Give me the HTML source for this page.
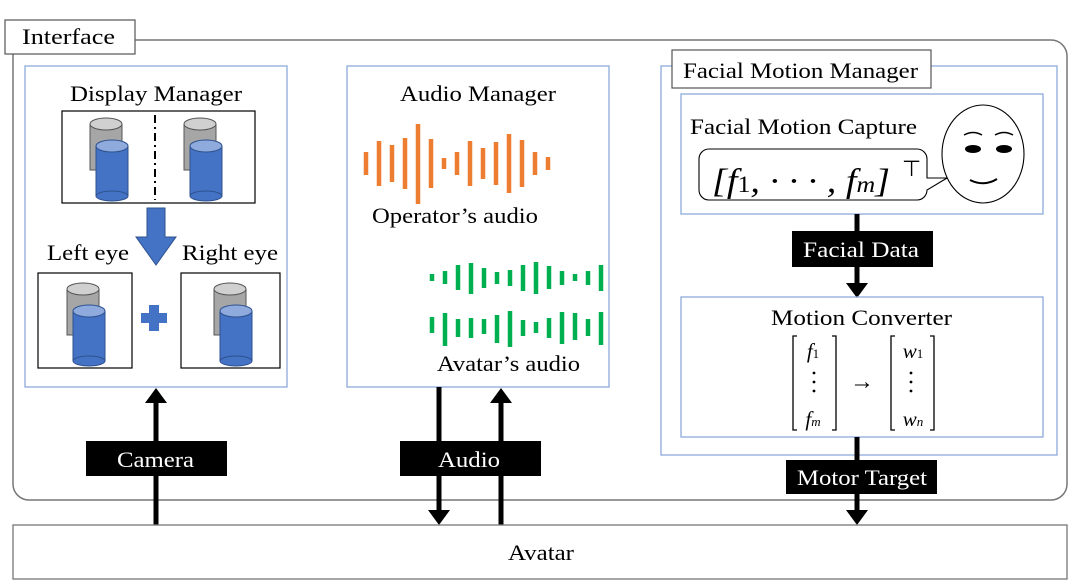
<!DOCTYPE html>
<html><head><meta charset="utf-8"><style>
html,body{margin:0;padding:0;background:#fff;}
svg{display:block;font-family:"Liberation Serif",serif;}
</style></head><body>
<svg width="1079" height="588" viewBox="0 0 1079 588" xmlns="http://www.w3.org/2000/svg">
<defs>
<g id="cyl">
 <rect x="0" y="6" width="32" height="46" fill="#a6a6a6" stroke="#555" stroke-width="1"/>
 <ellipse cx="16" cy="6" rx="16" ry="6" fill="#d0d0d0" stroke="#555" stroke-width="1"/>
 <rect x="6" y="28" width="32" height="50" fill="#4472c4" stroke="#2f528f" stroke-width="1"/>
 <ellipse cx="22" cy="78" rx="16" ry="5" fill="#4472c4" stroke="#2f528f" stroke-width="1"/>
 <ellipse cx="22" cy="28" rx="16" ry="6" fill="#8faadc" stroke="#2f528f" stroke-width="1"/>
</g>
</defs>
<g font-size="22">
<!-- Interface -->
<rect x="13" y="40" width="1054" height="460" rx="16" fill="none" stroke="#777" stroke-width="1.5"/>
<rect x="5" y="20" width="130" height="34" fill="#fff" stroke="#555" stroke-width="1.2"/>
<text x="22" y="44" textLength="93" lengthAdjust="spacingAndGlyphs">Interface</text>

<!-- Display manager -->
<rect x="25" y="66" width="262" height="321" fill="#fff" stroke="#8eaadb" stroke-width="1.3"/>
<text x="70" y="101" textLength="172" lengthAdjust="spacingAndGlyphs">Display Manager</text>
<rect x="62" y="111" width="193" height="92" fill="none" stroke="#000" stroke-width="1.2"/>
<line x1="155" y1="115" x2="155" y2="200" stroke="#000" stroke-width="2" stroke-dasharray="8,4,2,4"/>
<use href="#cyl" x="90" y="118"/>
<use href="#cyl" x="184" y="118"/>
<polygon points="147,208 165,208 165,237 176,237 156,265 136,237 147,237" fill="#4472c4" stroke="#2f528f"/>
<text x="47" y="260" textLength="82" lengthAdjust="spacingAndGlyphs">Left eye</text>
<text x="182" y="260" textLength="96" lengthAdjust="spacingAndGlyphs">Right eye</text>
<rect x="38" y="273" width="94" height="95" fill="none" stroke="#000" stroke-width="1.2"/>
<rect x="181" y="273" width="99" height="95" fill="none" stroke="#000" stroke-width="1.2"/>
<use href="#cyl" x="67" y="283"/>
<use href="#cyl" x="214" y="283"/>
<path d="M149,305 h10 v8 h8 v10 h-8 v8 h-10 v-8 h-8 v-10 h8z" fill="#4472c4"/>

<!-- Audio manager -->
<rect x="347" y="66" width="262" height="321" fill="#fff" stroke="#8eaadb" stroke-width="1.3"/>
<text x="400" y="101" textLength="156" lengthAdjust="spacingAndGlyphs">Audio Manager</text>
<g stroke="#ed7d31" stroke-width="4.5">
<line x1="366" y1="152" x2="366" y2="175"/><line x1="379" y1="141" x2="379" y2="186"/><line x1="392" y1="145" x2="392" y2="182"/><line x1="405" y1="138" x2="405" y2="189"/><line x1="418" y1="124" x2="418" y2="204"/><line x1="431" y1="139" x2="431" y2="188"/><line x1="444" y1="158" x2="444" y2="169"/><line x1="457" y1="152" x2="457" y2="175"/><line x1="470" y1="141" x2="470" y2="186"/><line x1="483" y1="148" x2="483" y2="179"/><line x1="496" y1="142" x2="496" y2="185"/><line x1="509" y1="134" x2="509" y2="193"/><line x1="522" y1="140" x2="522" y2="187"/><line x1="535" y1="152" x2="535" y2="175"/><line x1="548" y1="157" x2="548" y2="170"/>
</g>
<text x="372" y="223" textLength="166" lengthAdjust="spacingAndGlyphs">Operator’s audio</text>
<g stroke="#00b050" stroke-width="4.5">
<line x1="432" y1="274" x2="432" y2="281"/><line x1="445" y1="271" x2="445" y2="284"/><line x1="458" y1="265" x2="458" y2="290"/><line x1="471" y1="263" x2="471" y2="294"/><line x1="484" y1="268" x2="484" y2="288"/><line x1="497" y1="272" x2="497" y2="284"/><line x1="510" y1="270" x2="510" y2="286"/><line x1="523" y1="265" x2="523" y2="291"/><line x1="536" y1="262" x2="536" y2="294"/><line x1="549" y1="266" x2="549" y2="289"/><line x1="562" y1="271" x2="562" y2="285"/><line x1="575" y1="274" x2="575" y2="281"/><line x1="588" y1="271" x2="588" y2="285"/><line x1="601" y1="265" x2="601" y2="291"/>
<line x1="432" y1="317" x2="432" y2="333"/><line x1="445" y1="313" x2="445" y2="346"/><line x1="458" y1="319" x2="458" y2="337"/><line x1="471" y1="318" x2="471" y2="338"/><line x1="484" y1="319" x2="484" y2="334"/><line x1="497" y1="315" x2="497" y2="343"/><line x1="510" y1="311" x2="510" y2="347"/><line x1="523" y1="320" x2="523" y2="336"/><line x1="536" y1="322" x2="536" y2="333"/><line x1="549" y1="318" x2="549" y2="338"/><line x1="562" y1="312" x2="562" y2="344"/><line x1="575" y1="313" x2="575" y2="340"/><line x1="588" y1="319" x2="588" y2="336"/><line x1="601" y1="312" x2="601" y2="345"/>
</g>
<text x="437" y="371" textLength="143" lengthAdjust="spacingAndGlyphs">Avatar’s audio</text>

<!-- Facial motion manager -->
<rect x="661" y="66" width="396" height="389" fill="#fff" stroke="#8eaadb" stroke-width="1.3"/>
<rect x="672" y="50" width="259" height="38" fill="#fff" stroke="#555" stroke-width="1.2"/>
<text x="683" y="78" textLength="235" lengthAdjust="spacingAndGlyphs">Facial Motion Manager</text>
<rect x="681" y="94" width="362" height="120" fill="none" stroke="#8eaadb" stroke-width="1.3"/>
<text x="690" y="134" textLength="227" lengthAdjust="spacingAndGlyphs">Facial Motion Capture</text>
<path d="M710,149 H917 A10,10 0 0 1 927,159 V178 L947,178 L927,190 A10,10 0 0 1 917,200 H709 A10,10 0 0 1 699,190 V159 A10,10 0 0 1 709,149Z" fill="#fff" stroke="#000" stroke-width="1.1"/>
<text x="712" y="192" font-size="34" font-style="italic" textLength="178" lengthAdjust="spacingAndGlyphs">[f<tspan font-size="23" font-style="normal">1</tspan>, · · · , f<tspan font-size="23">m</tspan>]</text>
<text x="902" y="176" font-size="22">⊤</text>
<ellipse cx="983" cy="154" rx="41" ry="49" fill="#fff" stroke="#000" stroke-width="1.1"/>
<path d="M964,135 q9,-5 18,0 M995,135 q9,-5 18,0" fill="none" stroke="#000" stroke-width="1.5"/>
<ellipse cx="973" cy="149" rx="8" ry="4" fill="#000"/><ellipse cx="1004" cy="149" rx="8" ry="4" fill="#000"/>
<path d="M970,180 q14,7 27,-1" fill="none" stroke="#000" stroke-width="2"/>

<line x1="857" y1="214" x2="857" y2="285" stroke="#000" stroke-width="5"/>
<polygon points="846,283 868,283 857,298" fill="#000"/>
<rect x="792" y="231" width="141" height="36" fill="#000"/>
<text x="803" y="257" fill="#fff" textLength="116" lengthAdjust="spacingAndGlyphs">Facial Data</text>

<rect x="681" y="297" width="362" height="140" fill="none" stroke="#8eaadb" stroke-width="1.3"/>
<text x="771" y="325" textLength="181" lengthAdjust="spacingAndGlyphs">Motion Converter</text>
<g fill="none" stroke="#000" stroke-width="1.3">
<path d="M797,336 h-4 v94 h4 M832,336 h4 v94 h-4 M895,336 h-4 v94 h4 M930,336 h4 v94 h-4"/>
</g>
<g font-size="21" font-style="italic" text-anchor="middle">
<text x="813" y="358">f<tspan font-size="13" font-style="normal">1</tspan></text>
<text x="813" y="426">f<tspan font-size="13">m</tspan></text>
<text x="913" y="358">w<tspan font-size="13" font-style="normal">1</tspan></text>
<text x="913" y="426">w<tspan font-size="13">n</tspan></text>
</g>
<g fill="#000"><circle cx="814" cy="373" r="1.4"/><circle cx="814" cy="382" r="1.4"/><circle cx="814" cy="391" r="1.4"/><circle cx="911" cy="373" r="1.4"/><circle cx="911" cy="382" r="1.4"/><circle cx="911" cy="391" r="1.4"/></g>
<text x="862" y="389" font-size="24" text-anchor="middle">→</text>

<line x1="857" y1="437" x2="857" y2="512" stroke="#000" stroke-width="5"/>
<polygon points="846,510 868,510 857,525" fill="#000"/>
<rect x="786" y="460" width="151" height="34" fill="#000"/>
<text x="797" y="485" fill="#fff" textLength="130" lengthAdjust="spacingAndGlyphs">Motor Target</text>

<!-- Camera / Audio -->
<line x1="156" y1="400" x2="156" y2="525" stroke="#000" stroke-width="5"/>
<polygon points="145,403 167,403 156,388" fill="#000"/>
<rect x="86" y="441" width="141" height="35" fill="#000"/>
<text x="117" y="467" fill="#fff" textLength="77" lengthAdjust="spacingAndGlyphs">Camera</text>

<line x1="439" y1="387" x2="439" y2="512" stroke="#000" stroke-width="5"/>
<polygon points="428,510 450,510 439,525" fill="#000"/>
<line x1="501" y1="400" x2="501" y2="525" stroke="#000" stroke-width="5"/>
<polygon points="490,403 512,403 501,388" fill="#000"/>
<rect x="400" y="441" width="141" height="35" fill="#000"/>
<text x="438" y="467" fill="#fff" textLength="62" lengthAdjust="spacingAndGlyphs">Audio</text>

<!-- Avatar -->
<rect x="13" y="525" width="1054" height="54" fill="#fff" stroke="#777" stroke-width="1.3"/>
<text x="508" y="560" textLength="66" lengthAdjust="spacingAndGlyphs">Avatar</text>
</g>
</svg>
</body></html>
